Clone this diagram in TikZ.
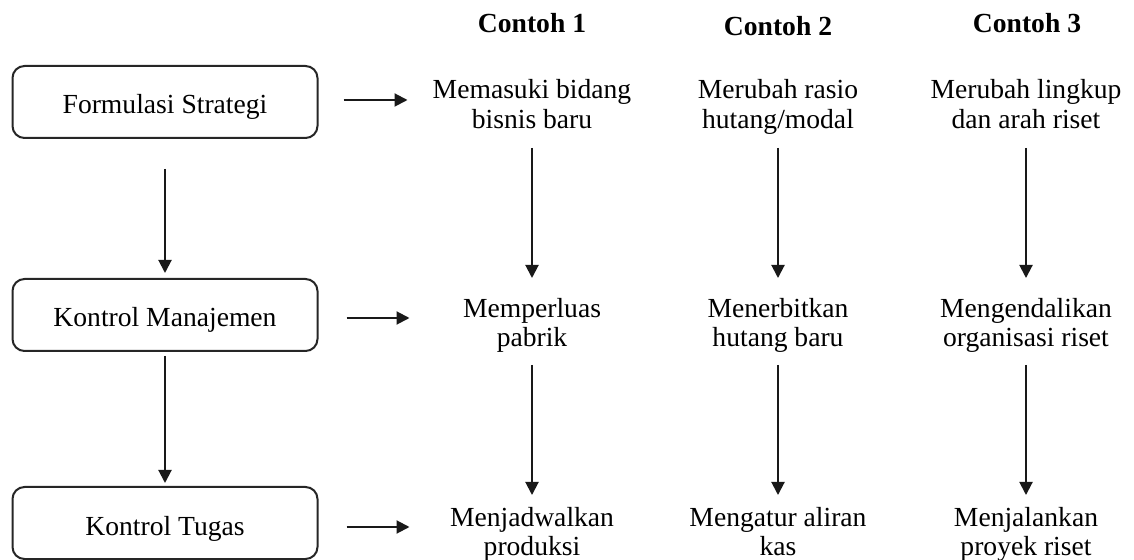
\documentclass[tikz,border=0pt]{standalone}
\usepackage{fontspec}
\setmainfont{Liberation Serif}
\usetikzlibrary{arrows.meta}

\tikzset{
  level/.style={draw=black!85, line width=1pt, rounded corners=6pt,
    minimum width=152.5pt, minimum height=36pt, inner sep=0pt,
    text height=12pt, text depth=0pt,
    font=\fontsize{13.8}{15}\selectfont},
  example/.style={align=center, inner sep=0pt,
    font=\fontsize{13.8}{14.75}\selectfont},
  heading/.style={inner sep=0pt, font=\fontsize{13.8}{15}\selectfont\bfseries},
  arr/.style={draw=black!90, line width=1pt,
    -{Triangle[length=6.5pt,width=6.5pt]}},
}

\begin{document}
\begin{tikzpicture}[x=0.5pt,y=-0.5pt]
  \path[use as bounding box] (0,0) rectangle (1134,560);

  % control levels
  \node[level] (fs) at (165,102) {Formulasi Strategi};
  \node[level] (km) at (165,315) {Kontrol Manajemen};
  \node[level] (kt) at (165,523) {Kontrol Tugas};

  % column headings
  \node[heading] (h1) at (532,23)  {Contoh 1};
  \node[heading] (h2) at (778,26)  {Contoh 2};
  \node[heading] (h3) at (1027,23) {Contoh 3};

  % examples, one column each (struts keep every line on the same grid)
  \node[example] (a1) at (532,107.5) {\strut Memasuki bidang\\\strut bisnis baru};
  \node[example] (a2) at (532,326)   {\strut Memperluas\\\strut pabrik};
  \node[example] (a3) at (532,535)   {\strut Menjadwalkan\\\strut produksi};

  \node[example] (b1) at (778,107.5) {\strut Merubah rasio\\\strut hutang/modal};
  \node[example] (b2) at (778,326)   {\strut Menerbitkan\\\strut hutang baru};
  \node[example] (b3) at (778,535)   {\strut Mengatur aliran\\\strut kas};

  \node[example] (c1) at (1026,107.5) {\strut Merubah lingkup\\\strut dan arah riset};
  \node[example] (c2) at (1026,326)   {\strut Mengendalikan\\\strut organisasi riset};
  \node[example] (c3) at (1026,535)   {\strut Menjalankan\\\strut proyek riset};

  % down the levels
  \draw[arr, shorten <=15pt, shorten >=2.5pt] (fs.south) -- (km.north);
  \draw[arr, shorten <=2pt,  shorten >=1.5pt] (km.south) -- (kt.north);

  % from each level to its examples
  \draw[arr] ([xshift=12.5pt,yshift=1pt]fs.east) -- ([xshift=44.5pt,yshift=1pt]fs.east);
  \draw[arr] ([xshift=14pt,yshift=-1.5pt]km.east) -- ([xshift=45.5pt,yshift=-1.5pt]km.east);
  \draw[arr] ([xshift=14pt,yshift=-2pt]kt.east) -- ([xshift=45.5pt,yshift=-2pt]kt.east);

  % down each column
  \foreach \u in {a,b,c}{
    \draw[arr, shorten <=20.25pt, shorten >=24pt] (\u1.center) -- (\u2.center);
    \draw[arr, shorten <=19.5pt,  shorten >=20pt] (\u2.center) -- (\u3.center);
  }
\end{tikzpicture}
\end{document}
